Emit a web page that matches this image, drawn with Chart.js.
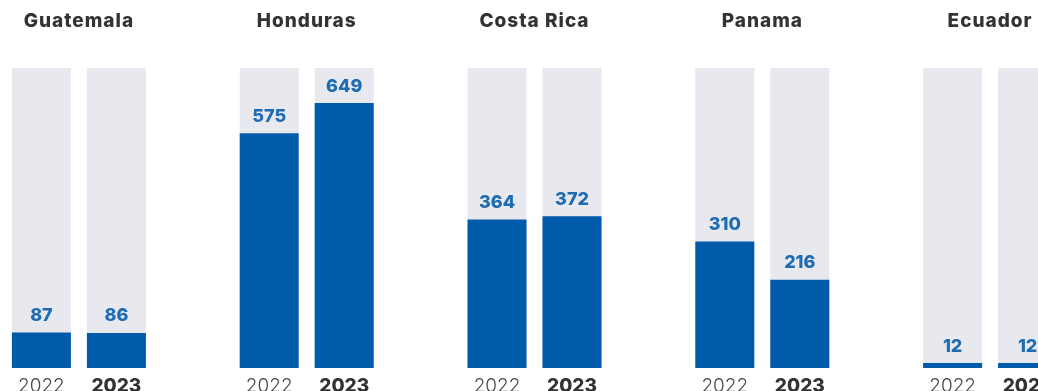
<!DOCTYPE html>
<html>
<head>
<meta charset="utf-8">
<script src="https://cdn.jsdelivr.net/npm/chart.js@4.4.1/dist/chart.umd.min.js"></script>
<style>
  html, body { margin: 0; padding: 0; background: #ffffff; overflow: hidden; width: 1038px; height: 391px; }
  #wrap { position: absolute; left: -35.5px; top: 0; width: 1139px; height: 391px; }
</style>
</head>
<body>
<div id="wrap"><canvas id="chart"></canvas></div>
<script>
// Countries and yearly values
const countries = ['Guatemala', 'Honduras', 'Costa Rica', 'Panama', 'Ecuador'];
const years = ['2022', '2023'];
const values2022 = [87, 575, 364, 310, 12];
const values2023 = [86, 649, 372, 216, 12];
// Height of the grey track behind each bar
const trackMax = 735;
const trackValues = countries.map(() => trackMax);

const BLUE = '#005BAA';
const TRACK = '#E8E9EF';
const LABEL_BLUE = '#1F6CB3';

const barLabels = {
  id: 'barLabels',
  afterDatasetsDraw(chart) {
    const ctx = chart.ctx;
    ctx.save();
    // Country names above each group
    const xs = chart.scales.x;
    ctx.fillStyle = '#333333';
    ctx.font = '800 19px Inter, "DejaVu Sans", sans-serif';
    ctx.letterSpacing = '1px';
    ctx.textAlign = 'center';
    ctx.textBaseline = 'middle';
    countries.forEach((c, i) => {
      ctx.fillText(c, xs.getPixelForValue(i), 21);
    });
    ctx.letterSpacing = '0px';
    // Values above the blue bars and years below them
    [0, 1].forEach(di => {
      const meta = chart.getDatasetMeta(di);
      const data = chart.data.datasets[di].data;
      meta.data.forEach((bar, i) => {
        ctx.fillStyle = LABEL_BLUE;
        ctx.font = '800 18px Inter, "DejaVu Sans", sans-serif';
        ctx.textBaseline = 'middle';
        ctx.fillText(String(data[i]), bar.x, bar.y - 17);
        ctx.textBaseline = 'alphabetic';
        if (di === 0) {
          ctx.fillStyle = '#4a4a4a';
          ctx.font = '300 19px Inter, "DejaVu Sans", sans-serif';
        } else {
          ctx.fillStyle = '#333333';
          ctx.font = '800 19px Inter, "DejaVu Sans", sans-serif';
        }
        ctx.fillText(years[di], bar.x, 392);
      });
    });
    ctx.restore();
  }
};

new Chart(document.getElementById('chart'), {
  type: 'bar',
  data: {
    labels: countries,
    datasets: [
      { label: years[0], data: values2022, backgroundColor: BLUE, stack: 's2022', order: 0 },
      { label: years[1], data: values2023, backgroundColor: BLUE, stack: 's2023', order: 0 },
      { label: years[0] + ' track', data: trackValues, backgroundColor: TRACK, stack: 's2022', order: 1 },
      { label: years[1] + ' track', data: trackValues, backgroundColor: TRACK, stack: 's2023', order: 1 }
    ]
  },
  options: {
    responsive: true,
    maintainAspectRatio: false,
    animation: false,
    layout: { padding: { top: 68, bottom: 23, left: 0, right: 0 } },
    datasets: { bar: { categoryPercentage: 0.6585, barPercentage: 0.7867, borderWidth: 0 } },
    plugins: { legend: { display: false }, tooltip: { enabled: false } },
    scales: {
      x: { display: false, offset: true },
      y: { display: false, stacked: false, min: 0, max: trackMax }
    }
  },
  plugins: [barLabels]
});
</script>
</body>
</html>
